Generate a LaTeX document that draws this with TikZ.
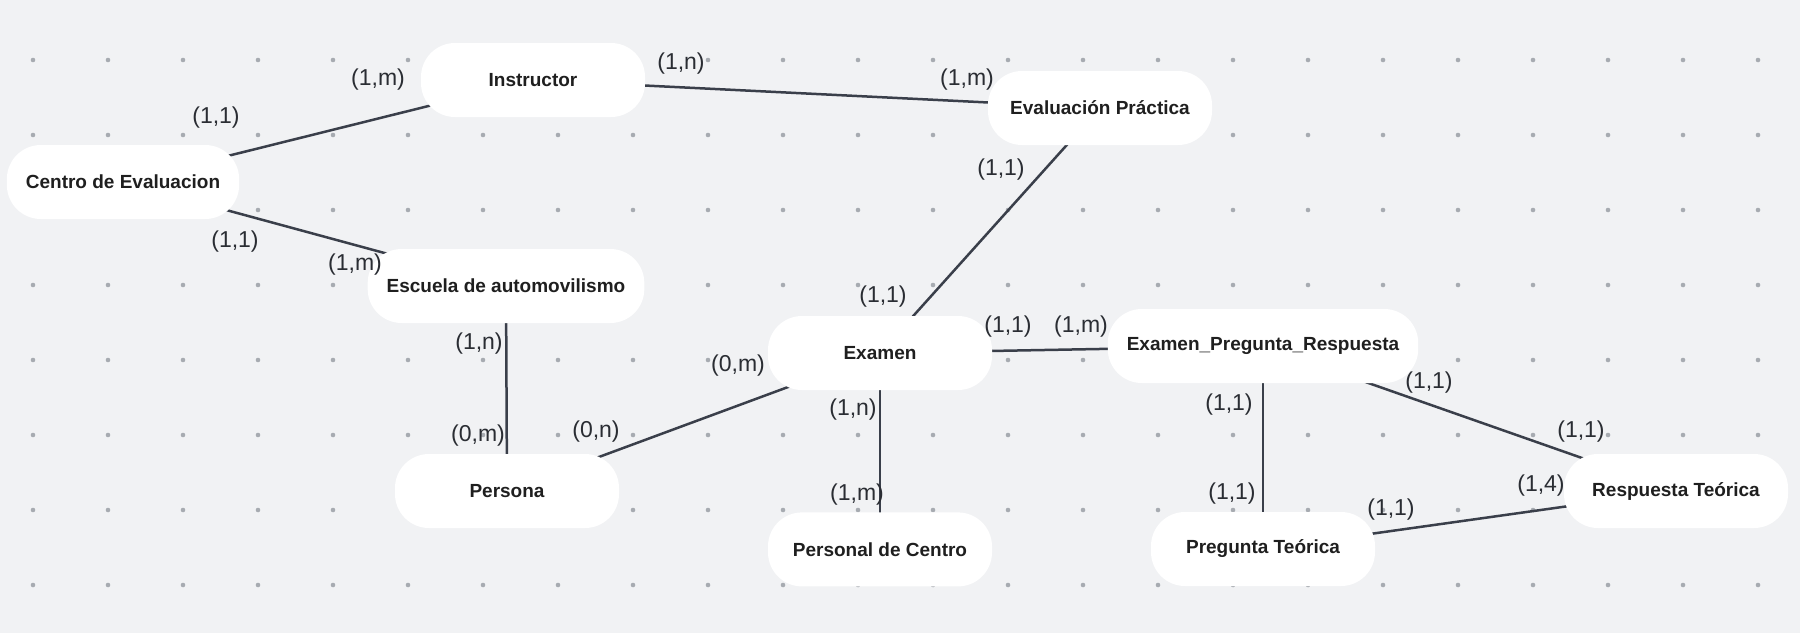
\documentclass[tikz,border=0pt]{standalone}
\usepackage{fontspec}
\setmainfont{Liberation Sans}
\usetikzlibrary{positioning,backgrounds}

\definecolor{canvas}{HTML}{F1F2F4}
\definecolor{griddot}{HTML}{A7ABB1}
\definecolor{relline}{HTML}{3A3F4A}
\definecolor{cardtext}{HTML}{2A2D33}

\tikzset{
    entity/.style={fill=white, rounded corners=34pt, minimum width=224pt,
        minimum height=74pt, inner xsep=19pt, text=black!88,
        font=\fontsize{19}{22}\selectfont\bfseries},
    card/.style={text=cardtext, font=\fontsize{23}{26}\selectfont},
    rel/.style={draw=relline, line width=2.5pt}
}

\begin{document}
\begin{tikzpicture}[x=1pt, y=-1pt]
    \useasboundingbox (0,0) rectangle (1800,633);

    % Entities
    \node[entity] (instructor) at (533,80) {Instructor};
    \node[entity] (evalpractica) at (1100,108) {Evaluación Práctica};
    \node[entity] (centro) at (123,182) {Centro de Evaluacion};
    \node[entity] (escuela) at (506,286) {Escuela de automovilismo};
    \node[entity] (examen) at (880,353) {Examen};
    \node[entity] (epr) at (1263,346) {Examen\_Pregunta\_Respuesta};
    \node[entity] (persona) at (507,491) {Persona};
    \node[entity, below=0pt of examen, yshift=-122pt] (personal) {Personal de Centro};
    \node[entity] (pregunta) at (1263,549) {Pregunta Teórica};
    \node[entity] (respuesta) at (1676,491) {Respuesta Teórica};

    \begin{scope}[on background layer]
        % Canvas and dot grid
        \fill[canvas] (0,0) rectangle (1800,633);
        \foreach \i in {0,...,23}
            \foreach \j in {0,...,7}
                \fill[griddot] (33+75*\i, 60+75*\j) circle (2.3pt);

        % Relationships (hidden under the boxes)
        \draw[rel] (centro.center) -- (instructor.center);
        \draw[rel] (centro.center) -- (escuela.center);
        \draw[rel] (instructor.center) -- (evalpractica.center);
        \draw[rel] (evalpractica.center) -- (examen.center);
        \draw[rel] (escuela.center) -- (persona.center);
        \draw[rel] (persona.center) -- (examen.center);
        \draw[rel] (examen.center) -- (personal.center);
        \draw[rel] (examen.center) -- (epr.center);
        \draw[rel] (epr.center) -- (pregunta.center);
        \draw[rel] (epr.center) -- (respuesta.center);
        \draw[rel] (pregunta.center) -- (respuesta.center);
    \end{scope}

    % Cardinalities
    \foreach \x/\y/\txt [count=\n] in {
        378/80/{(1,m)}, 216/118/{(1,1)}, 681/64/{(1,n)}, 967/80/{(1,m)},
        1001/170/{(1,1)}, 883/297/{(1,1)}, 235/242/{(1,1)}, 355/265/{(1,m)},
        479/344/{(1,n)}, 478/436/{(0,m)}, 596/432/{(0,n)}, 738/366/{(0,m)},
        853/410/{(1,n)}, 857/495/{(1,m)}, 1008/327/{(1,1)}, 1081/327/{(1,m)},
        1229/405/{(1,1)}, 1429/383/{(1,1)}, 1581/432/{(1,1)}, 1541/486/{(1,4)},
        1232/494/{(1,1)}, 1391/510/{(1,1)}
    } {
        \node[card] (card\n) at (\x,\y) {\txt};
    }
\end{tikzpicture}
\end{document}
